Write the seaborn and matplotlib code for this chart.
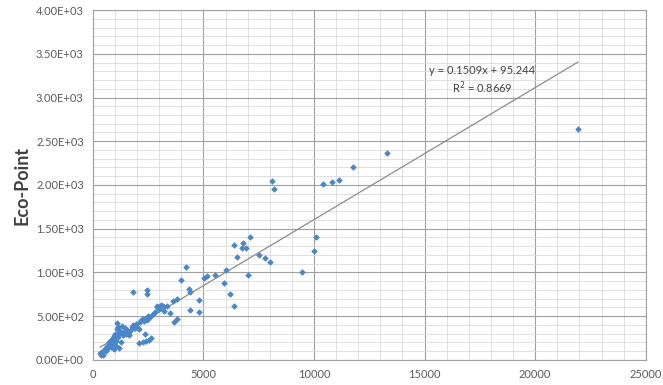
import numpy as np
import pandas as pd
import seaborn as sns
import matplotlib.pyplot as plt
from matplotlib.ticker import MultipleLocator, FuncFormatter

# ---------- DATA ----------
x_vals = [21940, 13300, 11770, 11120, 10820, 10420, 8120, 8200, 10090, 9980,
          9440, 7090, 6785, 6365, 6730, 6940, 6540, 7530, 7780, 8010,
          7015, 6000, 5540, 5160, 5046, 5925, 6210, 6365, 4220, 3975,
          4360, 4400, 4800, 4800, 4415, 3800, 3630, 3785, 3650, 3500,
          3345, 3170, 2885, 2446, 2446, 1815,
          330, 380, 420, 460, 500, 560, 600, 650, 700, 720,
          760, 800, 820, 860, 900, 920, 950, 980, 1000, 1030,
          1060, 1080, 1100, 1120, 1150, 1180, 1200, 1250, 1280, 1300,
          1350, 1400, 1450, 1500, 1550, 1600, 1650, 1700, 1750, 1800,
          1850, 1900, 1950, 2000, 2100, 2150, 2200, 2250, 2300, 2350,
          2400, 2450, 2500, 2600, 2700, 2800, 2900, 3000, 3100, 3200,
          2100, 2250, 2400, 2550, 2650]
y_vals = [2640, 2362, 2210, 2053, 2030, 2008, 2042, 1958, 1402, 1246,
          1006, 1402, 1333, 1314, 1276, 1276, 1177, 1204, 1170, 1120,
          975, 1029, 968, 956, 941, 884, 758, 613, 1063, 914,
          815, 777, 686, 545, 571, 701, 674, 469, 434, 533,
          617, 617, 617, 800, 758, 781,
          75, 60, 90, 55, 110, 130, 100, 160, 140, 200,
          180, 230, 150, 210, 250, 190, 270, 120, 300, 220,
          160, 350, 420, 260, 380, 140, 310, 330, 200, 390,
          280, 320, 360, 300, 340, 310, 290, 330, 380, 400,
          360, 370, 410, 380, 350, 430, 460, 470, 440, 300,
          480, 460, 500, 490, 520, 550, 600, 580, 630, 560,
          195, 205, 215, 230, 250]

slope = 0.1509
intercept = 95.244
r2 = 0.8669

df = pd.DataFrame({"x": x_vals, "y": y_vals})
line_x = np.array([min(x_vals), max(x_vals)])
line_df = pd.DataFrame({"x": line_x, "y": slope * line_x + intercept})

# ---------- PLOT ----------
sns.set_style("white")
plt.rcParams["font.family"] = ["Lato", "DejaVu Sans"]

fig = plt.figure(figsize=(6.63, 3.85), dpi=100)
ax = fig.add_axes([0.140, 0.065, 0.834, 0.909])

sns.lineplot(data=line_df, x="x", y="y", ax=ax, color="#8c8c8c", lw=0.9, zorder=2)
sns.scatterplot(data=df, x="x", y="y", ax=ax, marker="D", s=8, color="#4a86c8",
                edgecolor="#4a86c8", linewidth=0.5, zorder=3)

ax.set_xlim(0, 25000)
ax.set_ylim(0, 4000)
ax.xaxis.set_major_locator(MultipleLocator(5000))
ax.xaxis.set_minor_locator(MultipleLocator(1000))
ax.yaxis.set_major_locator(MultipleLocator(500))
ax.yaxis.set_minor_locator(MultipleLocator(100))
ax.yaxis.set_major_formatter(FuncFormatter(lambda v, p: "%.2E" % v))

ax.grid(which="major", color="#a0a0a0", lw=0.8)
ax.grid(which="minor", color="#dadada", lw=0.6)
ax.set_axisbelow(True)
for s in ax.spines.values():
    s.set_color("#a0a0a0")
    s.set_linewidth(0.8)

ax.tick_params(axis="both", which="major", labelsize=8, colors="#595959",
               length=3, color="#a0a0a0")
ax.tick_params(which="minor", length=0)

ax.set_xlabel("")
ax.set_ylabel("Eco-Point", fontsize=13, fontweight="bold", color="#404040")

ax.text(17600, 3314, "y = %.4fx + %.3f" % (slope, intercept), fontsize=8,
        color="#404040", ha="center", va="center")
ax.text(17600, 3109, "R$^2$ = %.4f" % r2, fontsize=8,
        color="#404040", ha="center", va="center")

fig.savefig("out.png", dpi=100)
